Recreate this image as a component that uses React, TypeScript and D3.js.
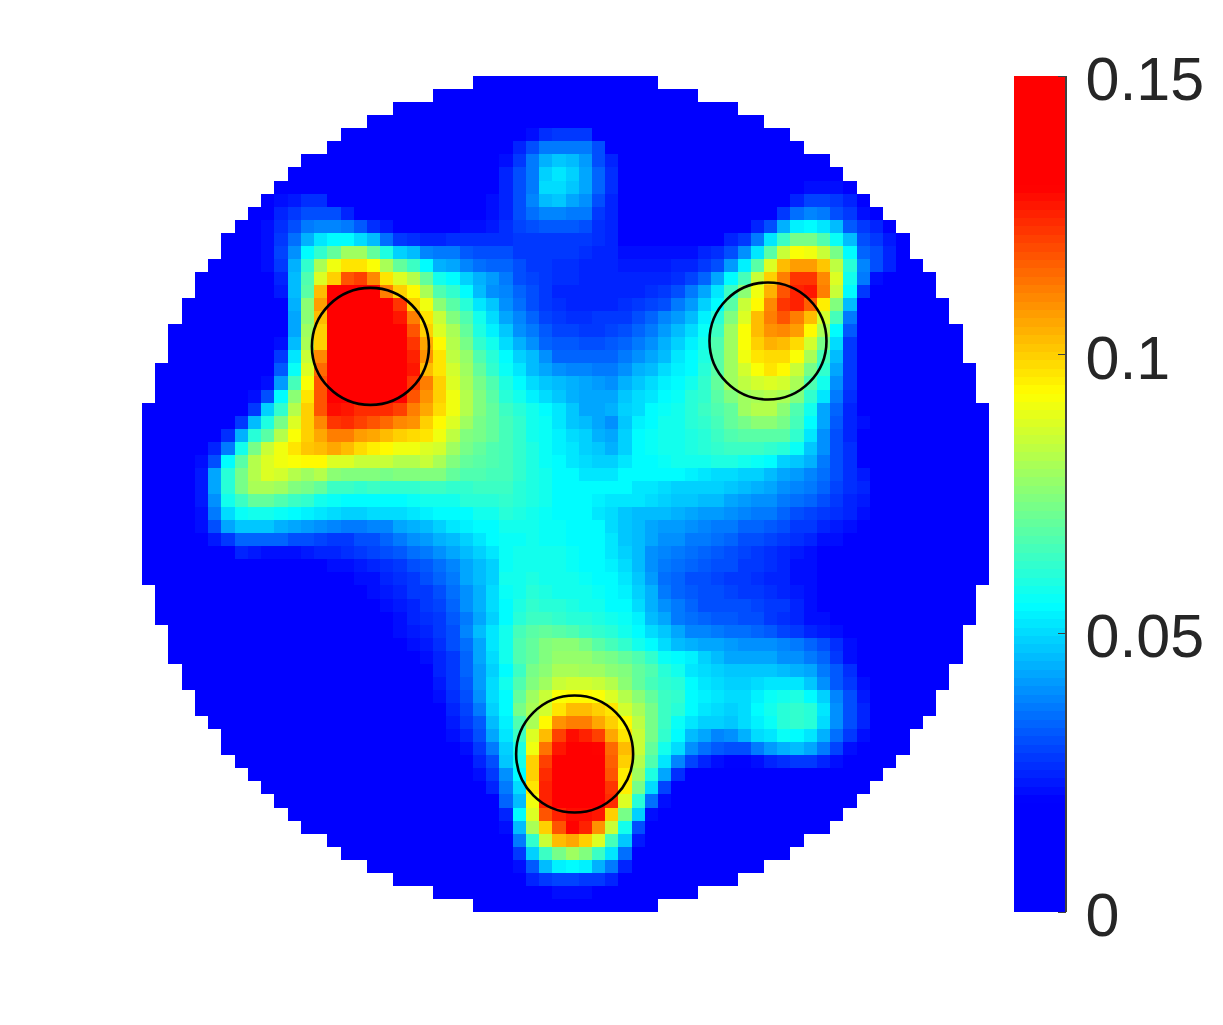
import React from "react";
import * as d3 from "d3";

// Heat values are in thousandths. Each row lists runs of [first column, values]; unlisted cells inside the disc sit at the background level.
type Run = [number, number[]];
const backgroundLevel = 10;
const gridSize = 64;

const r04: Run[] = [[29, [22,26,28,28,27]]];
const r05: Run[] = [[28, [25,30,36,37,37,36,30]]];
const r06: Run[] = [[27, [21,28,37,44,47,45,41,31,25]]];
const r07: Run[] = [[27, [24,30,37,49,51,49,43,33,26]]];
const r08: Run[] = [[27, [24,30,37,50,50,47,43,33,26]], [50, [22,22,21]]];
const r09: Run[] = [[10, [21,23,26,26]], [26, [21,24,31,38,45,47,43,39,31,25]], [49, [24,29,29,28,24]]];
const r10: Run[] = [[10, [24,27,30,30,30,24]], [26, [22,25,31,35,38,38,37,36,28,25]], [48, [27,35,38,36,31,27,21]]];
const r11: Run[] = [[9, [21,26,30,36,38,38,37,32,26,23]], [24, [21,22,23,26,29,30,32,32,32,30,26,24]], [46, [25,31,44,53,55,52,45,32,27,24]]];
const r12: Run[] = [[9, [22,28,35,44,51,54,54,50,45,35,28,26,25,25,26,26,26,26,26,27,28,28,28,27,27,26,24]], [44, [24,28,36,51,63,72,73,67,56,46,30,28,23]]];
const r13: Run[] = [[9, [22,29,40,55,62,70,78,78,70,59,48,46,38,36,36,32,30,30,30,28,28,28,27,27,26,25,24,21,21,21,21,21,22,24,26,30,40,52,68,84,92,91,85,72,54,34,30,24]]];
const r14: Run[] = [[9, [21,27,44,62,80,90,97,97,92,80,70,63,55,44,42,38,35,34,33,30,28,27,26,26,25,24,24,23,23,23,23,25,25,27,31,41,53,68,88,102,107,107,101,83,60,38,30,24]]];
const r15: Run[] = [[10, [24,45,66,88,100,118,120,110,97,88,82,70,58,55,48,44,41,36,31,29,28,26,26,25,24,24,24,24,24,24,26,29,34,43,55,65,84,100,112,122,122,110,87,58,36,22]]];
const r16: Run[] = [[10, [23,45,68,103,135,135,135,135,112,100,94,80,67,62,54,46,40,38,33,30,28,25,24,24,24,24,25,25,26,27,30,36,43,52,64,75,90,104,118,125,127,112,85,55,28]]];
const r17: Run[] = [[11, [44,75,107,135,135,135,135,135,122,100,90,75,68,60,51,47,40,35,31,28,26,25,25,25,25,26,27,29,31,37,41,49,55,68,84,93,110,122,125,116,95,74,46]]];
const r18: Run[] = [[11, [42,76,103,135,135,135,135,135,127,112,97,85,74,66,57,50,43,38,34,29,27,26,26,27,27,28,30,34,38,41,46,53,60,74,88,102,112,118,112,102,86,65,37]]];
const r19: Run[] = [[11, [42,78,100,135,135,135,135,135,135,118,100,88,80,70,59,53,47,40,37,32,29,29,28,28,29,31,33,36,41,45,50,56,64,78,92,103,108,110,107,93,80,55,32]]];
const r20: Run[] = [[10, [22,46,80,100,135,135,135,135,135,135,122,105,93,82,72,62,58,50,44,40,34,32,32,31,31,32,33,37,39,44,48,53,57,66,78,92,100,104,102,98,86,72,50,27]]];
const r21: Run[] = [[10, [27,52,84,110,135,135,135,135,135,135,125,108,96,83,77,67,61,55,49,45,39,34,34,33,33,33,37,39,42,46,51,54,59,68,78,91,97,98,98,92,80,65,45,27]]];
const r22: Run[] = [[10, [32,56,88,115,135,135,135,135,135,135,127,103,96,86,78,70,62,56,52,46,42,39,38,38,37,37,39,44,46,50,53,55,60,68,78,86,92,96,93,84,72,62,42,28]]];
const r23: Run[] = [[9, [22,41,65,92,118,135,135,135,135,135,135,122,112,100,88,80,73,66,59,55,50,47,45,44,42,41,40,44,47,50,53,55,58,62,70,78,83,86,88,86,80,66,57,40,27]]];
const r24: Run[] = [[8, [21,30,55,75,97,118,133,133,133,133,133,130,118,108,100,90,82,74,68,61,58,53,50,47,44,42,42,43,47,50,52,55,56,60,62,68,74,78,80,82,80,74,62,52,36,26]]];
const r25: Run[] = [[8, [28,48,62,82,99,117,128,127,123,124,123,121,112,105,98,90,82,74,69,64,60,57,55,52,47,43,42,44,48,50,54,56,58,60,63,67,70,78,82,82,76,67,57,42,33,24]]];
const r26: Run[] = [[7, [27,46,59,72,88,100,110,122,124,120,118,115,110,108,100,93,87,78,72,69,65,62,58,56,52,47,45,42,40,47,53,55,57,58,60,62,65,70,73,76,76,72,65,55,42,32,25,21]]];
const r27: Run[] = [[6, [26,44,60,68,82,92,100,106,112,112,107,105,102,100,98,97,90,83,74,72,69,65,62,58,56,53,50,48,44,43,48,54,56,58,58,59,61,64,66,68,68,68,68,62,51,40,31,25]]];
const r28: Run[] = [[5, [25,37,57,72,85,90,97,101,102,106,102,98,95,93,90,90,88,86,78,72,69,67,65,62,59,56,53,52,49,47,44,49,54,56,58,58,59,60,62,63,63,63,62,60,56,47,39,31,26]]];
const r29: Run[] = [[4, [22,30,54,68,82,87,90,92,93,93,87,87,84,84,84,82,82,84,80,74,70,68,66,65,62,59,56,54,51,50,48,48,51,55,55,56,57,57,58,59,59,57,56,55,49,47,44,37,30,26]]];
const r30: Run[] = [[4, [23,42,60,72,82,88,86,81,79,81,76,74,74,74,73,74,74,74,74,70,67,66,65,65,62,59,57,55,54,52,52,52,54,55,55,55,55,53,51,50,50,49,48,45,42,41,38,35,30,26,23]]];
const r31: Run[] = [[4, [23,42,60,73,80,80,78,74,72,70,64,63,62,63,62,62,62,63,63,62,62,63,63,64,61,59,57,55,55,54,54,55,54,52,51,50,49,49,49,49,47,45,44,42,40,38,36,33,29,26,24]]];
const r32: Run[] = [[4, [23,40,58,64,70,70,67,64,62,58,56,55,55,55,55,55,56,57,57,57,60,60,61,62,60,59,57,55,55,55,53,52,51,51,50,49,47,47,46,46,43,41,40,39,37,35,33,31,28,25,23]]];
const r33: Run[] = [[4, [22,37,50,56,58,58,56,54,53,52,50,49,49,50,50,50,51,53,54,54,54,57,58,60,59,58,56,55,55,55,52,50,47,46,45,45,44,43,41,41,39,38,37,36,33,31,29,27,26,24,22]]];
const r34: Run[] = [[4, [21,31,42,47,47,47,44,43,41,40,38,37,37,38,38,43,44,46,48,51,53,54,55,57,57,57,56,56,55,55,55,50,47,45,43,41,41,40,38,37,36,34,33,32,31,28,27,25,23,21]]];
const r35: Run[] = [[5, [23,28,33,33,33,33,31,30,29,28,28,30,31,33,37,39,41,44,46,48,51,54,56,56,57,56,56,55,55,55,51,47,45,42,40,39,37,36,35,33,31,30,29,27,26,24,22,21]]];
const r36: Run[] = [[7, [24,23,22,22,22,23,24,25,26,27,29,30,32,35,37,39,42,45,48,51,56,57,57,57,57,56,55,54,51,48,45,40,38,36,35,33,32,30,29,28,26,25,23,22]]];
const r37: Run[] = [[14, [21,22,23,24,26,27,30,32,35,38,43,46,49,56,58,58,57,57,56,55,54,53,50,45,39,37,35,33,32,31,30,28,27,26,24,22,21]]];
const r38: Run[] = [[16, [21,22,24,26,28,30,33,36,42,46,49,57,58,59,58,57,57,56,55,54,51,47,41,35,33,31,31,29,28,27,26,25,24,22,21]]];
const r39: Run[] = [[17, [21,23,25,27,28,31,35,40,44,50,56,58,60,59,58,58,57,56,55,53,48,44,37,34,32,31,30,29,28,27,26,25,23,21]]];
const r40: Run[] = [[18, [21,23,25,27,29,34,39,44,50,55,59,62,60,60,59,58,57,55,54,50,44,40,36,33,31,30,30,30,29,27,27,24,22]]];
const r41: Run[] = [[19, [22,24,26,28,32,37,42,48,55,60,63,63,62,61,60,59,57,56,53,46,42,37,35,33,32,32,31,30,27,26,24,22,21]]];
const r42: Run[] = [[19, [21,23,25,27,31,38,45,52,57,65,68,70,68,66,64,62,60,58,55,50,47,42,38,38,36,35,35,34,32,29,27,25,23,21]]];
const r43: Run[] = [[20, [21,23,26,30,35,42,52,57,66,70,74,76,75,72,68,65,62,57,54,50,46,44,43,42,41,40,40,39,38,36,34,31,26,21]]];
const r44: Run[] = [[21, [22,25,28,34,42,50,57,66,70,74,77,77,77,74,73,70,66,62,56,55,53,49,45,43,43,43,42,40,39,36,33,28,22]]];
const r45: Run[] = [[22, [24,28,33,41,49,55,64,72,76,80,80,79,78,76,74,70,66,61,58,52,50,48,47,47,47,47,46,44,42,37,32,26]]];
const r46: Run[] = [[22, [23,27,32,41,50,57,67,74,78,84,86,86,84,81,76,70,65,62,60,55,52,50,49,49,50,52,52,51,47,40,32,27,21]]];
const r47: Run[] = [[22, [22,26,30,39,50,55,70,78,85,92,94,93,92,87,82,76,70,64,62,55,53,51,50,50,53,56,58,59,55,48,38,30,23]]];
const r48: Run[] = [[23, [25,29,37,48,54,72,80,86,96,103,102,99,96,86,80,72,64,60,54,51,50,49,50,55,57,61,62,60,52,40,31,24]]];
const r49: Run[] = [[23, [23,27,32,46,53,67,80,93,108,112,112,106,100,93,83,73,63,56,52,48,48,47,50,53,56,61,62,60,50,39,31,24]]];
const r50: Run[] = [[23, [22,25,30,42,51,63,87,102,120,128,125,120,105,97,85,72,62,54,46,43,38,40,44,50,52,56,54,52,44,35,27,21]]];
const r51: Run[] = [[24, [22,27,37,49,59,91,113,127,135,135,130,114,102,84,70,57,50,39,35,32,31,30,37,41,44,45,43,37,29,21]]];
const r52: Run[] = [[25, [24,31,47,57,100,120,133,135,135,135,116,100,82,67,51,38,29,25,22,20,20,22,24,26,27,27,25,21]]];
const r53: Run[] = [[25, [22,27,40,54,100,124,135,135,135,135,117,95,78,59,43,26]]];
const r54: Run[] = [[26, [24,37,50,96,125,135,135,135,135,122,95,72,50,29]]];
const r55: Run[] = [[27, [33,46,90,125,133,133,133,133,123,88,60,35,21]]];
const r56: Run[] = [[27, [25,55,88,117,125,128,128,127,100,72,48,22]]];
const r57: Run[] = [[27, [21,45,80,100,118,130,125,108,85,57,30]]];
const r58: Run[] = [[28, [36,62,84,102,106,100,88,65,47,23]]];
const r59: Run[] = [[28, [28,48,63,72,78,74,64,52,35]]];
const r60: Run[] = [[28, [21,32,45,53,54,53,44,36,24]]];
const r61: Run[] = [[29, [24,28,29,29,28,27,25]]];
const r62: Run[] = [[31, [21,21,21]]];

const firstDataRow = 4;
const dataRows = [r04,r05,r06,r07,r08,r09,r10,r11,r12,r13,r14,r15,r16,r17,r18,r19,r20,r21,r22,r23,r24,r25,r26,r27,r28,r29,r30,r31,r32,r33,r34,r35,r36,r37,r38,r39,r40,r41,r42,r43,r44,r45,r46,r47,r48,r49,r50,r51,r52,r53,r54,r55,r56,r57,r58,r59,r60,r61,r62];

// First column inside the disc for the upper half of the rows (the lower half mirrors it).
const discStart = [25,22,19,17,15,14,12,11,10,9,8,7,6,6,5,4,4,3,3,2,2,2,1,1,1,0,0,0,0,0,0,0];

// Circles in grid units.
const circleX = [17.26, 47.3, 32.69];
const circleY = [20.7, 20.29, 51.9];
const circleR = 4.42;

const tickValues = [0, 0.05, 0.1, 0.15];
const tickLabels = ["0", "0.05", "0.1", "0.15"];
const stopValues = [0, 20, 55, 93, 130, 150];
const stopColors = ["#0000ff", "#0000ff", "#00ffff", "#ffff00", "#ff0000", "#ff0000"];
const levels = 100;

const xs = d3.scaleLinear().domain([0, gridSize]).range([142, 989]);
const ys = d3.scaleLinear().domain([0, gridSize]).range([76, 912]);
const barY = d3.scaleLinear().domain([0, 0.15]).range([912, 76]);
const continuous = d3.scaleLinear<string>().domain(stopValues).range(stopColors).interpolate(d3.interpolateRgb);
const palette = d3.range(levels).map((i) => continuous(((i + 0.5) / levels) * 150));
const colour = d3.scaleQuantize<string>().domain([0, 150]).range(palette);

function buildCells() {
  const cells: { r: number; c: number; v: number }[] = [];
  for (let r = 0; r < gridSize; r++) {
    const start = discStart[r < 32 ? r : gridSize - 1 - r];
    const values = new Map<number, number>();
    const runs = dataRows[r - firstDataRow] ?? [];
    for (const [from, vals] of runs) vals.forEach((v, i) => values.set(from + i, v));
    for (let c = start; c < gridSize - start; c++) {
      cells.push({ r, c, v: values.get(c) ?? backgroundLevel });
    }
  }
  return cells;
}

export default function App() {
  const cells = buildCells();
  const px = (c: number) => Math.round(xs(c));
  const py = (r: number) => Math.round(ys(r));
  return (
    <svg
      width={1223}
      height={1025}
      style={{ position: "absolute", left: 0, top: 0, background: "#fff" }}
    >
      <g shapeRendering="crispEdges">
        {cells.map((d) => (
          <rect
            key={`${d.r}-${d.c}`}
            x={px(d.c)}
            y={py(d.r)}
            width={px(d.c + 1) - px(d.c)}
            height={py(d.r + 1) - py(d.r)}
            fill={colour(d.v)}
          />
        ))}
      </g>
      {circleX.map((cx, i) => (
        <circle
          key={i}
          cx={xs(cx)}
          cy={ys(circleY[i])}
          r={xs(circleR) - xs(0)}
          fill="none"
          stroke="#000"
          strokeWidth={2.6}
        />
      ))}
      <g shapeRendering="crispEdges">
        {palette.map((col, i) => {
          const y0 = Math.round(barY(((i + 1) / levels) * 0.15));
          const y1 = Math.round(barY((i / levels) * 0.15));
          return <rect key={i} x={1014} y={y0} width={52} height={y1 - y0} fill={col} />;
        })}
        <line x1={1066} x2={1066} y1={76} y2={912} stroke="#404040" strokeWidth={1.5} />
        {tickValues.map((t) => (
          <line key={t} x1={1058} x2={1066} y1={barY(t)} y2={barY(t)} stroke="#404040" strokeWidth={1} />
        ))}
      </g>
      {tickValues.map((t, i) => (
        <text
          key={t}
          x={1085.5}
          y={barY(t) + 24}
          fontFamily="'Liberation Sans', Arial, sans-serif"
          fontSize={61}
          fill="#262626"
        >
          {tickLabels[i]}
        </text>
      ))}
    </svg>
  );
}
